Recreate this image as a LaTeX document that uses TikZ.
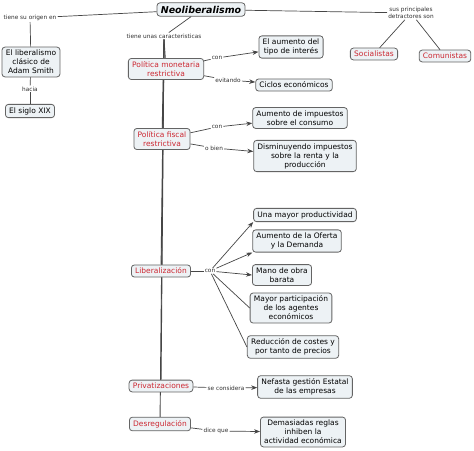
\documentclass[tikz,border=0pt]{standalone}
\usepackage{fontspec}
\setmainfont{DejaVu Sans}
\usetikzlibrary{arrows.meta}
\definecolor{boxfill}{RGB}{237,242,245}
\definecolor{boxline}{RGB}{100,100,100}
\definecolor{conceptred}{RGB}{204,40,50}
\definecolor{labeltext}{RGB}{50,50,50}
\definecolor{linkc}{RGB}{70,70,70}
\pgfdeclarelayer{bg}
\pgfdeclarelayer{paper}
\pgfsetlayers{paper,bg,main}
\begin{document}
\begin{tikzpicture}[x=1pt,y=-1pt,
  box/.style={draw=boxline, fill=boxfill, rounded corners=3pt, line width=0.8pt, align=center, font=\fontsize{7.5}{9}\selectfont, inner xsep=3.8pt, inner ysep=3pt},
  redbox/.style={box, text=conceptred},
  lbl/.style={font=\fontsize{5.8}{6.8}\selectfont, inner sep=1pt, align=center, text=labeltext},
  link/.style={draw=linkc, line width=0.7pt},
  arr/.style={link, -{Stealth[length=6pt,width=4.5pt]}}
]
\begin{pgfonlayer}{paper}
\fill[white] (0,0) rectangle (474,450);
\end{pgfonlayer}
\useasboundingbox (0,0) rectangle (474,450);

\node[box, font=\fontsize{9.5}{11}\selectfont\bfseries\itshape] (neo) at (201,9.5) {Neoliberalismo};
\node[lbl] (origen) at (30,18) {tiene su origen en};
\node[box] (adam) at (31,62) {El liberalismo\\clásico de\\Adam Smith};
\node[lbl] (hacia) at (30,89) {hacia};
\node[box] (xix) at (30,111) {El siglo XIX};
\node[lbl] (carac) at (164,36) {tiene unas caracteristicas};
\node[redbox] (pm) at (166,69) {Política monetaria\\restrictiva};
\node[lbl] (con1) at (217,58) {con};
\node[box] (interes) at (291,47) {El aumento del\\tipo de interés};
\node[lbl] (evit) at (228,80) {evitando};
\node[box] (ciclos) at (294,85) {Ciclos económicos};
\node[lbl] (detr) at (411,13) {sus principales\\detractores son};
\node[redbox] (soc) at (374,54) {Socialistas};
\node[redbox] (com) at (445,56) {Comunistas};
\node[redbox] (pf) at (162,139) {Política fiscal\\restrictiva};
\node[lbl] (con2) at (217,127) {con};
\node[box] (consumo) at (300,118) {Aumento de impuestos\\sobre el consumo};
\node[lbl] (obien) at (214,148) {o bien};
\node[box] (renta) at (305,156) {Disminuyendo impuestos\\sobre la renta y la\\producción};
\node[redbox] (lib) at (161,271) {Liberalización};
\node[lbl] (con3) at (210,271) {con};
\node[box] (prod) at (305,215) {Una mayor productividad};
\node[box] (oferta) at (297,241) {Aumento de la Oferta\\y la Demanda};
\node[box] (mano) at (282,275) {Mano de obra\\barata};
\node[box] (part) at (291,308) {Mayor participación\\de los agentes\\económicos};
\node[box] (costes) at (293,347) {Reducción de costes y\\por tanto de precios};
\node[redbox] (priv) at (161,386) {Privatizaciones};
\node[lbl] (secons) at (226,388) {se considera};
\node[box] (nefasta) at (305,387) {Nefasta gestión Estatal\\de las empresas};
\node[redbox] (desreg) at (160,424) {Desregulación};
\node[lbl] (dice) at (216,431) {dice que};
\node[box] (demas) at (303,432) {Demasiadas reglas\\inhiben la\\actividad económica};

\begin{pgfonlayer}{bg}
\draw[link,line width=0.9pt] (carac.south) -- (pm);
\draw[link,line width=0.9pt] (carac.south) -- (pf);
\draw[link,line width=0.9pt] (carac.south) -- (lib);
\draw[link,line width=0.9pt] (carac.south) -- (priv);
\draw[link,line width=0.9pt] (carac.south) -- (desreg);
\end{pgfonlayer}

\draw[link] (neo) -- (origen);
\draw[link] (origen) -- (adam);
\draw[link] (adam) -- (hacia);
\draw[link] (hacia) -- (xix);
\draw[link] (neo) -- (carac);
\draw[link] (pm) -- (con1);
\draw[arr] (con1) -- (interes);
\draw[link] (pm) -- (evit);
\draw[arr] (evit) -- (ciclos);
\draw[link] (neo) -- (detr);
\draw[link] (detr) -- (soc);
\draw[link] (detr) -- (com);
\draw[link] (pf) -- (con2);
\draw[arr] (con2) -- (consumo);
\draw[link] (pf) -- (obien);
\draw[arr] (obien) -- (renta);
\draw[link] (lib) -- (con3);
\draw[arr] (con3) -- (prod.south west);
\draw[arr] (con3) -- (oferta.south west);
\draw[arr] (con3) -- (mano.west);
\draw[link] (con3) -- (part.west);
\draw[link] (con3) -- (costes.west);
\draw[link] (priv) -- (secons);
\draw[arr] (secons) -- (nefasta);
\draw[link] (desreg) -- (dice);
\draw[arr] (dice) -- (demas);
\end{tikzpicture}
\end{document}
